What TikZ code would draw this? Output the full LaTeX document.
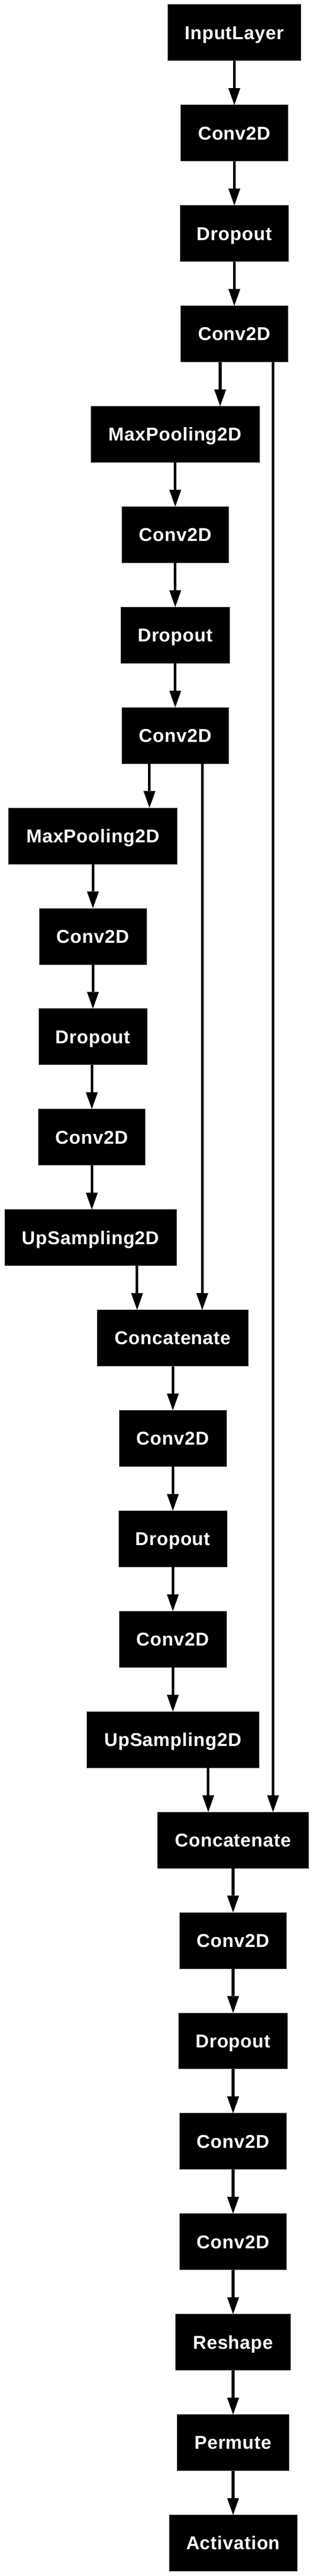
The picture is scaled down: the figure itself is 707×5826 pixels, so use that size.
\documentclass[tikz,border=0pt]{standalone}
\usepackage{fontspec}
\setmainfont{Liberation Sans}
\usetikzlibrary{arrows.meta,chains,positioning}
\tikzset{
    layer/.style = {
        fill = black,
        draw = black!70,
        line width = 1pt,
        text = white,
        minimum height = 127pt,
        text height = 30pt,
        text depth = 0pt,
        inner sep = 0pt,
        outer sep = 0pt,
        font = \fontsize{42}{50}\selectfont\bfseries\addfontfeature{LetterSpace=2.4},
        on chain,
        },
    input layer/.style = {
        layer,
        minimum width = 301pt,
        },
    conv/.style = {
        layer,
        minimum width = 242pt,
        },
    dropout/.style = {
        layer,
        minimum width = 245pt,
        },
    pooling/.style = {
        layer,
        minimum width = 381pt,
        },
    upsampling/.style = {
        layer,
        minimum width = 389pt,
        },
    concat/.style = {
        layer,
        minimum width = 341pt,
        },
    reshape/.style = {
        layer,
        minimum width = 260pt,
        },
    permute/.style = {
        layer,
        minimum width = 252pt,
        },
    activation/.style = {
        layer,
        minimum width = 289pt,
        },
    edge/.style = {
        draw = black,
        line width = 6pt,
        -{Triangle[width=27pt, length=38pt, line width=0pt]},
        },
}

\begin{document}
\begin{tikzpicture}[
            start chain = going below,
            node distance = 100.1pt,
            ]
            \useasboundingbox (-529.5pt,73.8pt) rectangle (177.5pt,-5752.2pt);

            % contracting path
            \node [input layer] (in) {InputLayer};
            \node [conv] (c1) {Conv2D};
            \node [dropout] (d1) {Dropout};
            \node [conv] (c2) {Conv2D};
            \node [pooling, xshift=-133.5pt] (mp1) {MaxPooling2D};
            \node [conv] (c3) {Conv2D};
            \node [dropout] (d2) {Dropout};
            \node [conv] (c4) {Conv2D};
            \node [pooling, xshift=-186pt] (mp2) {MaxPooling2D};
            \node [conv] (c5) {Conv2D};
            \node [dropout] (d3) {Dropout};
            \node [conv, xshift=-2.5pt] (c6) {Conv2D};

            % expanding path
            \node [upsampling, xshift=-2.5pt] (up1) {UpSampling2D};
            \node [concat, xshift=185.6pt] (cat1) {Concatenate};
            \node [conv] (c7) {Conv2D};
            \node [dropout] (d4) {Dropout};
            \node [conv] (c8) {Conv2D};
            \node [upsampling] (up2) {UpSampling2D};
            \node [concat, xshift=136.1pt] (cat2) {Concatenate};
            \node [conv] (c9) {Conv2D};
            \node [dropout] (d5) {Dropout};
            \node [conv] (c10) {Conv2D};
            \node [conv] (c11) {Conv2D};
            \node [reshape] (rs) {Reshape};
            \node [permute] (pm) {Permute};
            \node [activation] (act) {Activation};

            \coordinate (down1) at ([xshift=-32pt]c2.south);
            \coordinate (skip1) at ([xshift=87.5pt]c2.south);
            \coordinate (down2) at ([xshift=-58.25pt]c4.south);
            \coordinate (skip2) at ([xshift=61pt]c4.south);
            \coordinate (join1) at ([xshift=104.8pt]up1.south);
            \coordinate (join2) at ([xshift=80pt]up2.south);

            \draw[edge] (in) -- (c1);
            \draw[edge] (c1) -- (d1);
            \draw[edge] (d1) -- (c2);
            \draw[edge] (down1) -- (down1 |- mp1.north);
            \draw[edge] (skip1) -- (skip1 |- cat2.north);
            \draw[edge] (mp1) -- (c3);
            \draw[edge] (c3) -- (d2);
            \draw[edge] (d2) -- (c4);
            \draw[edge] (down2) -- (down2 |- mp2.north);
            \draw[edge] (skip2) -- (skip2 |- cat1.north);
            \draw[edge] (mp2) -- (c5);
            \draw[edge] (c5) -- (d3);
            \draw[edge] (c6.north |- d3.south) -- (c6.north);
            \draw[edge] (c6.south) -- (c6.south |- up1.north);
            \draw[edge] (join1) -- (join1 |- cat1.north);
            \draw[edge] (cat1) -- (c7);
            \draw[edge] (c7) -- (d4);
            \draw[edge] (d4) -- (c8);
            \draw[edge] (c8) -- (up2);
            \draw[edge] (join2) -- (join2 |- cat2.north);
            \draw[edge] (cat2) -- (c9);
            \draw[edge] (c9) -- (d5);
            \draw[edge] (d5) -- (c10);
            \draw[edge] (c10) -- (c11);
            \draw[edge] (c11) -- (rs);
            \draw[edge] (rs) -- (pm);
            \draw[edge] (pm) -- (act);

\end{tikzpicture}
\end{document}
